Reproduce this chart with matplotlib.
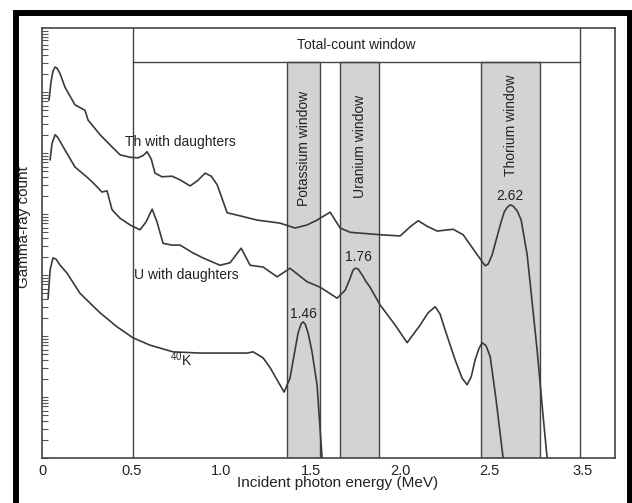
import matplotlib.pyplot as plt
from matplotlib.patches import Rectangle
import numpy as np

plt.rcParams['font.family'] = ['Liberation Sans', 'DejaVu Sans']
plt.rcParams['mathtext.fontset'] = 'custom'
plt.rcParams['mathtext.rm'] = 'Liberation Sans'
plt.rcParams['mathtext.it'] = 'Liberation Sans'

# energy (MeV) and log10(count)
th_e = [0.039, 0.050, 0.061, 0.073, 0.084, 0.101, 0.128, 0.184, 0.240, 0.257,
        0.324, 0.391, 0.436, 0.492, 0.536, 0.565, 0.587, 0.610, 0.631, 0.670,
        0.726, 0.771, 0.827, 0.870, 0.911, 0.945, 0.978, 1.034, 1.106, 1.201,
        1.330, 1.413, 1.480, 1.536, 1.609, 1.665, 1.721, 1.888, 2.000, 2.060,
        2.101, 2.150, 2.207, 2.296, 2.352, 2.419, 2.475, 2.492, 2.514, 2.536,
        2.559, 2.581, 2.598, 2.615, 2.631, 2.654, 2.676, 2.709, 2.726, 2.765,
        2.799, 2.821]
th_lg = [5.87, 6.16, 6.34, 6.41, 6.39, 6.30, 6.08, 5.79, 5.70, 5.54,
         5.30, 5.10, 4.97, 4.93, 4.92, 4.96, 5.02, 4.90, 4.67, 4.61,
         4.62, 4.56, 4.46, 4.55, 4.67, 4.62, 4.48, 4.02, 3.97, 3.90,
         3.85, 3.77, 3.82, 3.90, 4.03, 3.77, 3.70, 3.66, 3.64, 3.80,
         3.89, 3.80, 3.72, 3.75, 3.66, 3.38, 3.15, 3.18, 3.33, 3.57,
         3.82, 4.03, 4.11, 4.15, 4.13, 4.05, 3.90, 3.34, 2.87, 1.77,
         0.67, 0.00]

u_e = [0.045, 0.056, 0.073, 0.089, 0.128, 0.184, 0.257, 0.296, 0.335, 0.363,
       0.391, 0.436, 0.492, 0.547, 0.581, 0.615, 0.642, 0.676, 0.726, 0.771,
       0.844, 0.899, 0.994, 1.050, 1.112, 1.162, 1.235, 1.313, 1.385, 1.480,
       1.553, 1.648, 1.693, 1.721, 1.737, 1.749, 1.765, 1.788, 1.810, 1.832,
       1.888, 1.972, 2.039, 2.112, 2.156, 2.196, 2.223, 2.251, 2.307, 2.346,
       2.374, 2.397, 2.419, 2.441, 2.458, 2.480, 2.503, 2.536, 2.575]
u_lg = [4.89, 5.16, 5.30, 5.25, 5.05, 4.77, 4.59, 4.48, 4.36, 4.38,
        4.07, 3.93, 3.82, 3.74, 3.87, 4.08, 3.87, 3.52, 3.49, 3.49,
        3.36, 3.28, 3.16, 3.20, 3.44, 3.16, 3.13, 2.97, 3.11, 2.89,
        2.80, 2.62, 2.75, 2.95, 3.08, 3.11, 3.10, 3.00, 2.89, 2.80,
        2.51, 2.18, 1.89, 2.18, 2.38, 2.48, 2.36, 2.10, 1.61, 1.31,
        1.20, 1.33, 1.61, 1.80, 1.89, 1.84, 1.66, 0.95, 0.00]

k_e = [0.034, 0.045, 0.061, 0.078, 0.101, 0.140, 0.212, 0.240, 0.324, 0.419,
       0.508, 0.603, 0.732, 0.883, 0.994, 1.145, 1.179, 1.235, 1.274, 1.313,
       1.352, 1.385, 1.408, 1.430, 1.447, 1.458, 1.469, 1.486, 1.508, 1.536,
       1.564]
k_lg = [2.62, 3.08, 3.28, 3.26, 3.16, 3.03, 2.70, 2.62, 2.38, 2.15,
        1.97, 1.85, 1.74, 1.72, 1.72, 1.72, 1.74, 1.64, 1.48, 1.28,
        1.08, 1.31, 1.69, 2.05, 2.20, 2.23, 2.20, 2.05, 1.74, 1.20,
        0.00]

windows = [('Potassium window', 1.369, 1.553, 5.08),
           ('Uranium window', 1.665, 1.883, 5.10),
           ('Thorium window', 2.453, 2.782, 5.46)]
total_window = (0.508, 3.006)

peaks = [('1.46', 1.458, 2.36), ('1.76', 1.765, 3.30), ('2.62', 2.615, 4.30)]

tick_pos = [0, 0.5, 1.0, 1.5, 2.0, 2.5, 3.02]
tick_labels = ['0', '0.5', '1.0', '1.5', '2.0', '2.5', '3.5']

line_c = '#3a3a3a'

fig = plt.figure(figsize=(6.32, 5.03), dpi=100)
ax = fig.add_axes([0.0665, 0.0895, 0.9066, 0.8549])
ax.set_yscale('log')
ax.set_xlim(0, 3.20)
ax.set_ylim(1, 10 ** 7.05)

band_top = 0.921
for name, x0, x1, ly in windows:
    ax.axvspan(x0, x1, ymin=0, ymax=band_top, facecolor='#d3d3d3',
               edgecolor='#444444', lw=1.0, zorder=1)
    ax.text((x0 + x1) / 2, 10 ** ly, name, rotation=90, ha='center',
            va='center', fontsize=10, color='#222222', zorder=4)

for xv in total_window:
    ax.axvline(xv, color='#444444', lw=1.0, zorder=2)
ax.axhline(10 ** (7.05 * band_top), xmin=total_window[0] / 3.20,
           xmax=total_window[1] / 3.20, color='#444444', lw=1.0, zorder=2)
ax.text(sum(total_window) / 2, 10 ** 6.77, 'Total-count window',
        ha='center', va='center', fontsize=10, color='#222222')

for e, lg in [(th_e, th_lg), (u_e, u_lg), (k_e, k_lg)]:
    ax.plot(e, 10 ** np.array(lg), color=line_c, lw=1.2, zorder=3,
            solid_joinstyle='round')

ax.text(0.464, 10 ** 5.18, 'Th with daughters', ha='left', va='center',
        fontsize=10, color='#222222', zorder=4)
ax.text(0.514, 10 ** 3.0, 'U with daughters', ha='left', va='center',
        fontsize=10, color='#222222', zorder=4)
ax.text(0.78, 10 ** 1.61, r'$^{40}$K', ha='center', va='center',
        fontsize=10, color='#222222', zorder=4)
for lab, x, ly in peaks:
    ax.text(x, 10 ** ly, lab, ha='center', va='center', fontsize=10,
            color='#222222', zorder=4)

ax.set_xticks(tick_pos)
ax.set_xticklabels(tick_labels)
ax.tick_params(axis='x', length=0, pad=4, labelsize=10.5, colors='#222222')
ax.tick_params(axis='y', which='both', direction='in', length=4,
               width=0.8, color='#555555', labelleft=False)
ax.yaxis.set_minor_formatter(plt.NullFormatter())
for s in ['top', 'right', 'left', 'bottom']:
    ax.spines[s].set_color('#444444')
    ax.spines[s].set_linewidth(1.2)

ax.set_xlabel('Incident photon energy (MeV)', fontsize=11, color='#222222')
ax.xaxis.set_label_coords(0.515, -0.042)
ax.set_ylabel('Gamma-ray count', fontsize=11, color='#222222')
ax.yaxis.set_label_coords(-0.019, 0.537)

fig.patches.append(Rectangle((16 / 632, -0.05), (630 - 16) / 632,
                             1 - 13.5 / 503 + 0.05, transform=fig.transFigure,
                             fill=False, ec='black', lw=4.3, clip_on=False))

plt.savefig('out.png', dpi=100)
